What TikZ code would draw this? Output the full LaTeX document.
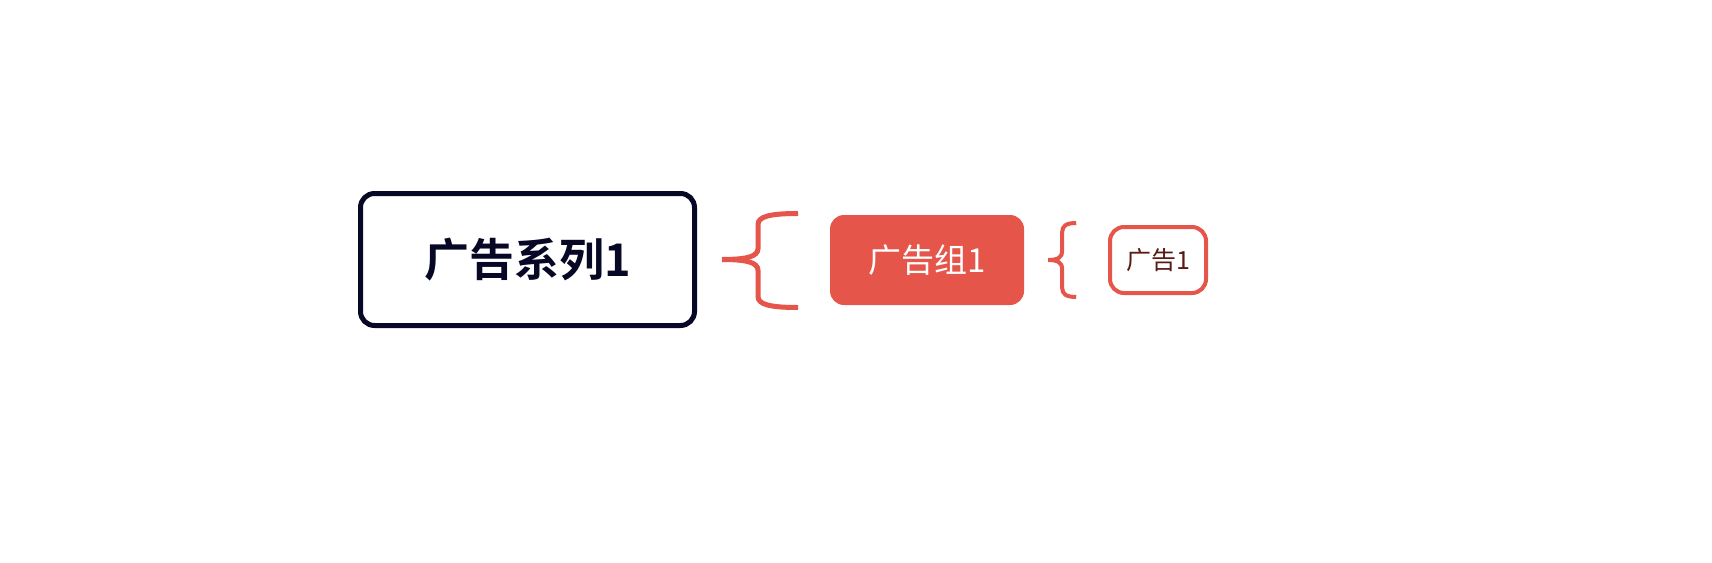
\documentclass[tikz,border=0pt]{standalone}
\usepackage{fontspec}
\newfontfamily\cjk[BoldFont={Noto Sans CJK SC Bold}]{Noto Sans CJK SC}
\usetikzlibrary{calc}
\definecolor{navy}{HTML}{070726}
\definecolor{redc}{HTML}{E5554A}
\definecolor{darkred}{HTML}{5A1A14}
\tikzset{
  topic/.style={draw=navy, line width=5pt, rounded corners=14pt, minimum width=334pt, minimum height=132pt, text=navy, font=\cjk\bfseries\fontsize{45}{54}\selectfont},
  sub/.style={fill=redc, rounded corners=14pt, minimum width=194pt, minimum height=90pt, text=white, font=\cjk\fontsize{33}{40}\selectfont},
  leaf/.style={draw=redc, line width=4pt, rounded corners=14pt, minimum width=96pt, minimum height=66pt, text=darkred, font=\cjk\fontsize{25}{30}\selectfont},
  bracebig/.style={draw=redc, line width=5pt},
  bracesmall/.style={draw=redc, line width=4pt},
}
\begin{document}
\begin{tikzpicture}[x=1pt,y=-1pt]
\useasboundingbox (0,0) rectangle (1712,562);
\node[topic] (n1) at (527.5,259.5) {广告系列1};
\node[sub] (n2) at (927,260) {广告组1};
\node[leaf] (n3) at (1158,260) {广告1};
\coordinate (b1) at ($(n1.east)+(25pt,0)$);
\coordinate (b2) at ($(n2.east)+(24pt,0)$);
\begin{scope}[shift={(b1)}]
\draw[bracebig] (0,0) .. controls (25,0) and (36,-3) .. (36,-11) -- (36,-35) .. controls (36,-43) and (48,-46) .. (76,-46);
\draw[bracebig] (0,0) .. controls (25,0) and (36,3) .. (36,11) -- (36,37) .. controls (36,45) and (48,48) .. (76,48);
\end{scope}
\begin{scope}[shift={(b2)}]
\draw[bracesmall] (0,0) .. controls (10,0) and (14,-3) .. (14,-9) -- (14,-28) .. controls (14,-34) and (18,-37) .. (28,-37);
\draw[bracesmall] (0,0) .. controls (10,0) and (14,3) .. (14,9) -- (14,28) .. controls (14,34) and (18,37) .. (28,37);
\end{scope}
\end{tikzpicture}
\end{document}
